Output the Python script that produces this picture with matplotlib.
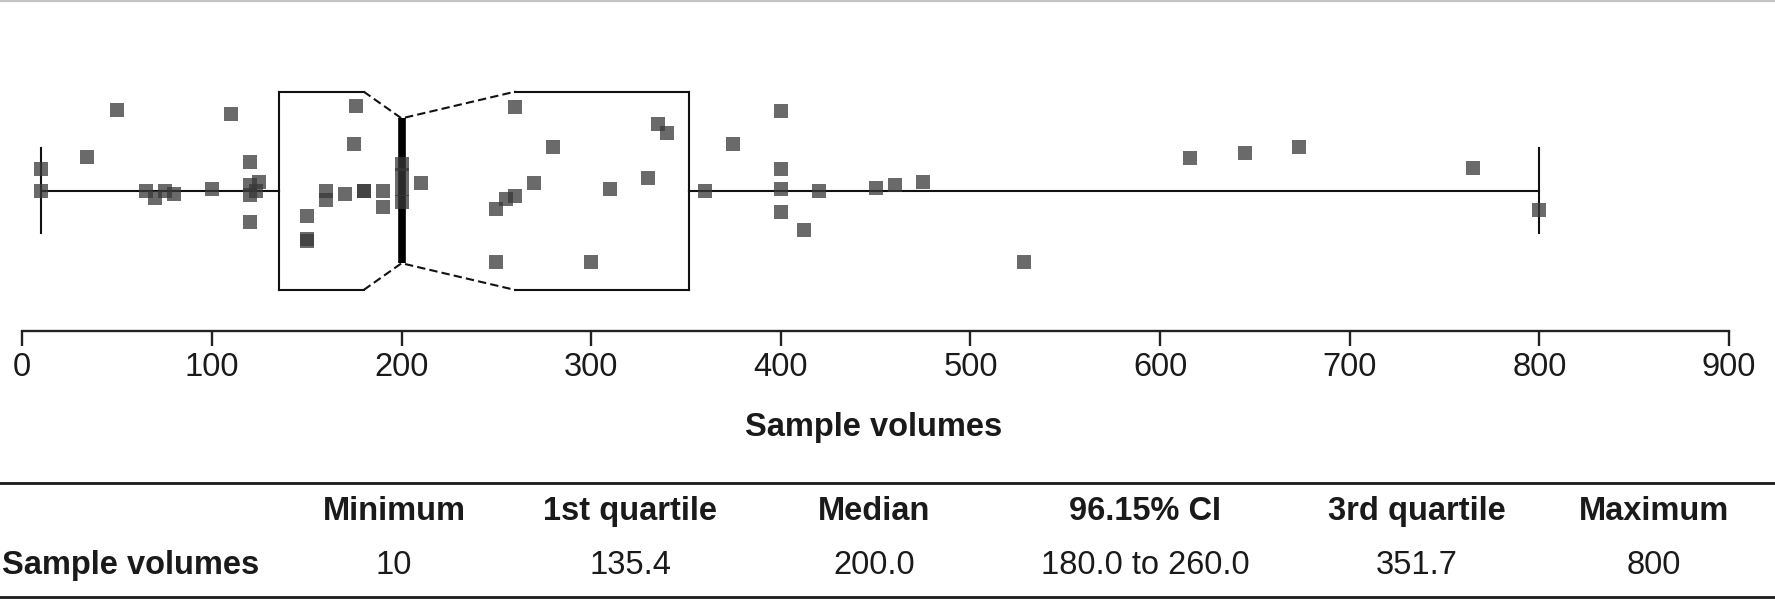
import matplotlib
matplotlib.use("Agg")
import matplotlib.pyplot as plt
from matplotlib.lines import Line2D

plt.rcParams['font.family'] = ['Liberation Sans', 'DejaVu Sans']

# summary statistics (as printed in the table)
v_min = 10
v_q1 = 135.4
v_median = 200.0
v_ci = (180.0, 260.0)
v_q3 = 351.7
v_max = 800

# individual sample volumes and their vertical jitter
volumes = [10, 10, 34, 50, 65, 70, 75, 80, 100, 110,
           120, 125, 120, 123, 120, 120,
           150, 150, 150, 160, 160, 170, 175, 176, 180, 180,
           190, 190, 200, 200, 200, 200, 210,
           250, 250, 255, 260, 260, 270, 280, 300, 310, 330,
           335, 340, 360, 375, 400, 400, 400, 400, 412, 420,
           450, 460, 475, 528, 616, 645, 673, 765, 800]
jitter = [0.22, 0.0, 0.34, 0.81, 0.0, -0.07, 0.0, -0.035, 0.02, 0.77,
          0.29, 0.09, 0.06, 0.0, -0.04, -0.31,
          -0.25, -0.51, -0.49, 0.0, -0.09, -0.03, 0.475, 0.855, 0.0, 0.0,
          0.0, -0.16, 0.27, 0.155, 0.02, -0.114, 0.075,
          -0.18, -0.72, -0.085, -0.05, 0.84, 0.075, 0.44, -0.72, 0.02, 0.13,
          0.67, 0.58, 0.0, 0.475, 0.80, 0.22, 0.02, -0.21, -0.40, 0.0,
          0.025, 0.06, 0.09, -0.72, 0.33, 0.38, 0.44, 0.23, -0.19]

xticks = [0, 100, 200, 300, 400, 500, 600, 700, 800, 900]
xlabel = "Sample volumes"

table_header = ["Minimum", "1st quartile", "Median", "96.15% CI", "3rd quartile", "Maximum"]
table_row_label = "Sample volumes"
table_values = ["10", "135.4", "200.0", "180.0 to 260.0", "351.7", "800"]

# figure, all layout in pixels
W, H = 1775, 599
fig = plt.figure(figsize=(W / 100, H / 100), dpi=100)

def fx(px):
    return px / W

def fy(py):
    return 1 - py / H

fs = 23.5
tc = '#1a1a1a'

center_px, unit_px = 190.8, 99.2
ax_top, ax_bot = 40, 331
x0_px, x1_px = 22.3, 1729
ax = fig.add_axes([fx(x0_px), fy(ax_bot), (x1_px - x0_px) / W, (ax_bot - ax_top) / H])
ax.set_xlim(0, 900)
ax.set_ylim(-(ax_bot - center_px) / unit_px, (center_px - ax_top) / unit_px)

for s in ['left', 'right', 'top']:
    ax.spines[s].set_visible(False)
ax.spines['bottom'].set_linewidth(1.7)
ax.spines['bottom'].set_color('#222222')
ax.set_yticks([])
ax.set_xticks(xticks)
ax.tick_params(axis='x', direction='out', length=10.8, width=1.7, color='#222222',
               pad=4.5, labelsize=fs, labelcolor=tc)

lc = '#111111'
lw = 1.5
notch = 0.73
cap = 0.43

# whiskers and caps
ax.plot([v_min, v_q1], [0, 0], color=lc, lw=lw, zorder=2)
ax.plot([v_q3, v_max], [0, 0], color=lc, lw=lw, zorder=2)
ax.plot([v_min, v_min], [-cap, cap], color=lc, lw=lw, zorder=2)
ax.plot([v_max, v_max], [-cap, cap], color=lc, lw=lw, zorder=2)

# box with dashed notch
for sgn in (1, -1):
    ax.plot([v_q1, v_q1], [0, sgn], color=lc, lw=lw, zorder=2)
    ax.plot([v_q3, v_q3], [0, sgn], color=lc, lw=lw, zorder=2)
    ax.plot([v_q1, v_ci[0]], [sgn, sgn], color=lc, lw=lw, zorder=2)
    ax.plot([v_ci[1], v_q3], [sgn, sgn], color=lc, lw=lw, zorder=2)
    ax.plot([v_ci[0], v_median, v_ci[1]], [sgn, sgn * notch, sgn],
            color=lc, lw=lw, dashes=(4, 2), zorder=2)
ax.plot([v_median, v_median], [-notch, notch], color='#000000', lw=5.5,
        solid_capstyle='butt', zorder=2)

# points
ax.scatter(volumes, jitter, marker='s', s=(14.5 * 0.72) ** 2, color='#383838',
           alpha=0.75, linewidths=0, zorder=3)

fig.text(fx(873.7), fy(436), xlabel, ha='center', va='baseline',
         fontsize=fs, fontweight='bold', color=tc)

# top gray rule
fig.add_artist(Line2D([0, 1], [fy(1.3), fy(1.3)], transform=fig.transFigure,
                      color='#c4c4c4', lw=1.6))

# table
for ypx in (483, 596.5):
    fig.add_artist(Line2D([0, 1], [fy(ypx), fy(ypx)], transform=fig.transFigure,
                          color=tc, lw=2.0))

col_x = [394, 630, 874, 1145, 1417, 1654]
for cx, head, val in zip(col_x, table_header, table_values):
    fig.text(fx(cx), fy(520), head, ha='center', va='baseline',
             fontsize=fs, fontweight='bold', color=tc)
    fig.text(fx(cx), fy(574), val, ha='center', va='baseline',
             fontsize=fs, color=tc)
fig.text(fx(2), fy(574), table_row_label, ha='left', va='baseline',
         fontsize=fs, fontweight='bold', color=tc)

fig.savefig('out.png', dpi=100)
